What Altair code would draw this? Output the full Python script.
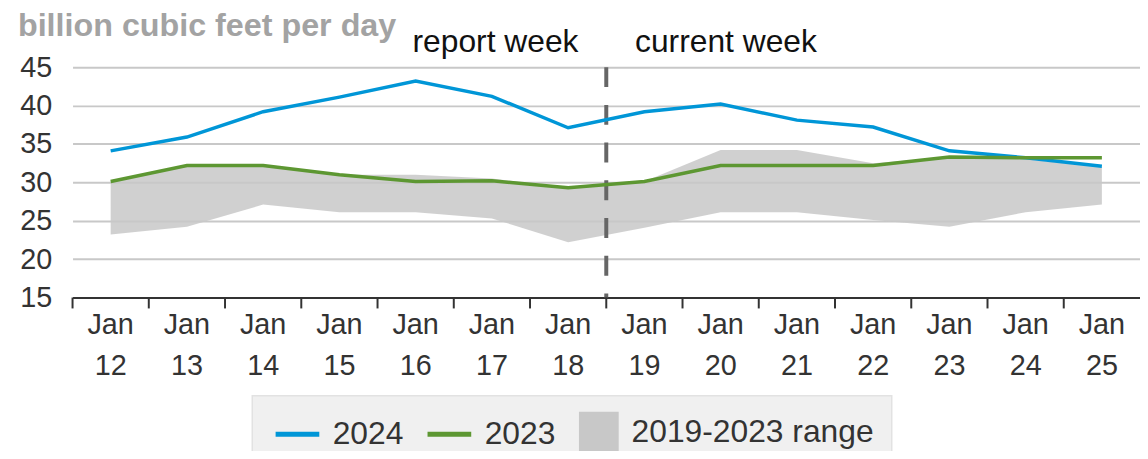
import altair as alt
import pandas as pd

FONT = "Liberation Sans"

dates = ["Jan 12", "Jan 13", "Jan 14", "Jan 15", "Jan 16", "Jan 17", "Jan 18",
         "Jan 19", "Jan 20", "Jan 21", "Jan 22", "Jan 23", "Jan 24", "Jan 25"]
v2024 = [34.1, 35.9, 39.2, 41.1, 43.2, 41.2, 37.1, 39.2, 40.2, 38.1, 37.2, 34.1, 33.2, 32.1]
v2023 = [30.1, 32.2, 32.2, 31.0, 30.1, 30.2, 29.3, 30.1, 32.2, 32.2, 32.2, 33.3, 33.2, 33.2]
range_low = [23.2, 24.2, 27.1, 26.1, 26.1, 25.3, 22.2, 24.1, 26.1, 26.1, 25.1, 24.2, 26.1, 27.1]
range_high = [30.1, 32.2, 32.2, 31.0, 31.0, 30.5, 29.3, 30.1, 34.2, 34.2, 32.5, 33.3, 33.0, 32.0]
series_names = ["2024", "2023"]
range_name = "2019-2023 range"
y_ticks = [15, 20, 25, 30, 35, 40, 45]
divider_date = "Jan 19"

lines_df = pd.DataFrame({
    "date": dates * 2,
    "series": ["2024"] * len(dates) + ["2023"] * len(dates),
    "value": v2024 + v2023,
})
range_df = pd.DataFrame({"date": dates, "low": range_low, "high": range_high,
                         "label": [range_name] * len(dates)})
dates_df = pd.DataFrame({"date": dates})
divider_df = pd.DataFrame({"date": [divider_date], "top": [45], "bottom": [15]})
box_df = pd.DataFrame({"k": [0]})

xscale = alt.Scale(type="band", domain=dates, paddingInner=0, paddingOuter=0, round=False)
yscale = alt.Scale(domain=[15, 45], nice=False, zero=False)

xaxis = alt.Axis(title=None, ticks=False, domain=True, domainColor="#333333", domainWidth=2,
                 labelExpr="split(datum.label, ' ')", labelLineHeight=42, labelFontSize=29,
                 labelFont=FONT, labelColor="#333333", labelPadding=13, labelAngle=0, grid=False)
yaxis = alt.Axis(title=None, values=y_ticks, grid=True, gridColor="#c8c8c8", gridWidth=2,
                 domain=False, ticks=False, labelPadding=21, labelFontSize=29, labelFont=FONT,
                 labelColor="#333333")


def X(**kw):
    return alt.X("date:O", scale=xscale, sort=dates, axis=xaxis, **kw)


bg = alt.Chart(box_df).mark_rect(fill="#f0f0f0", stroke="#e2e2e2", strokeWidth=1.5).encode(
    x=alt.value(181), x2=alt.value(825), y=alt.value(331), y2=alt.value(420)
)

area = alt.Chart(range_df).mark_area(opacity=0.85).encode(
    x=X(),
    y=alt.Y("high:Q", scale=yscale, axis=yaxis),
    y2="low:Q",
    fill=alt.Fill("label:N", scale=alt.Scale(domain=[range_name], range=["#c8c8c8"]),
                  legend=alt.Legend(title=None, orient="none", legendX=510, legendY=347,
                                    symbolType="square", symbolSize=1600, symbolOpacity=1,
                                    symbolStrokeWidth=0, labelFontSize=32, labelFont=FONT,
                                    labelColor="#333333", labelOffset=13, padding=0,
                                    labelLimit=500)),
)

divider = alt.Chart(divider_df).mark_rule(color="#666666", strokeWidth=4,
                                          strokeDash=[20, 18]).encode(
    x=X(bandPosition=0),
    y=alt.Y("top:Q", scale=yscale, axis=yaxis),
    y2="bottom:Q",
)

ticks = alt.Chart(dates_df).mark_rule(color="#333333", strokeWidth=2).encode(
    x=X(bandPosition=0), y=alt.value(232), y2=alt.value(243)
)

lines = alt.Chart(lines_df).mark_line(strokeWidth=3.5).encode(
    x=X(),
    y=alt.Y("value:Q", scale=yscale, axis=yaxis),
    color=alt.Color("series:N", sort=series_names,
                    scale=alt.Scale(domain=series_names, range=["#0096d7", "#5d9732"]),
                    legend=alt.Legend(title=None, orient="none", legendX=202, legendY=345,
                                      direction="horizontal", symbolType="stroke",
                                      symbolSize=1936, symbolStrokeWidth=5, labelFontSize=32,
                                      labelFont=FONT, labelColor="#333333", labelOffset=11,
                                      columnPadding=13, padding=0, labelLimit=500)),
)

report_txt = alt.Chart(divider_df).mark_text(
    text="report week", align="right", baseline="alphabetic", dx=-28,
    fontSize=32, font=FONT, color="#111111"
).encode(x=X(bandPosition=0), y=alt.value(-15))

current_txt = alt.Chart(divider_df).mark_text(
    text="current week", align="left", baseline="alphabetic", dx=29,
    fontSize=32, font=FONT, color="#111111"
).encode(x=X(bandPosition=0), y=alt.value(-15))

title_txt = alt.Chart(box_df).mark_text(
    text="billion cubic feet per day", align="left", baseline="alphabetic",
    fontSize=32.5, fontWeight="bold", font=FONT, color="#a3a3a3"
).encode(x=alt.value(-55), y=alt.value(-31))

chart = alt.layer(bg, area, divider, ticks, lines, report_txt, current_txt, title_txt).properties(
    width=1075, height=232,
    autosize=alt.AutoSizeParams(type="none"),
    padding={"left": 65, "top": 58, "right": 0, "bottom": 153},
    background="white",
).configure_view(stroke=None)

chart.save("out.html", embed_options={"renderer": "svg", "actions": False})
